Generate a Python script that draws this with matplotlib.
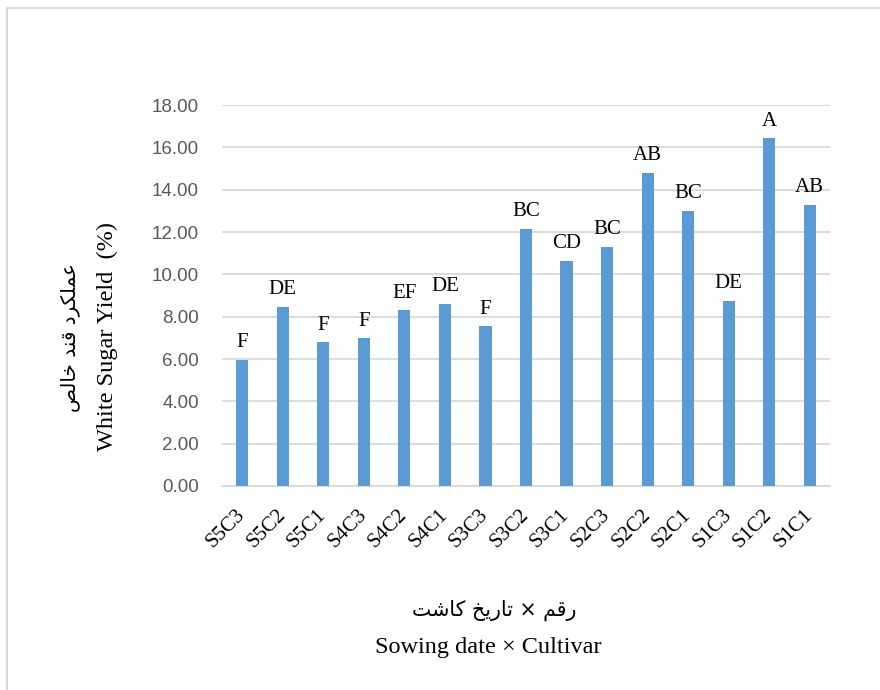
import matplotlib
matplotlib.use("Agg")
import matplotlib.pyplot as plt
from matplotlib.patches import Rectangle
from matplotlib.transforms import ScaledTranslation

treatments = ["S5C3", "S5C2", "S5C1", "S4C3", "S4C2", "S4C1", "S3C3", "S3C2",
              "S3C1", "S2C3", "S2C2", "S2C1", "S1C3", "S1C2", "S1C1"]
sugar_yield = [5.95, 8.48, 6.78, 6.97, 8.30, 8.60, 7.55, 12.14,
               10.63, 11.30, 14.81, 13.00, 8.75, 16.43, 13.29]
groups = ["F", "DE", "F", "F", "EF", "DE", "F", "BC",
          "CD", "BC", "AB", "BC", "DE", "A", "AB"]
y_ticks = [0, 2, 4, 6, 8, 10, 12, 14, 16, 18]

ylabel_fa = "عملکرد قند خالص"
ylabel_en = "White Sugar Yield  (%)"
xlabel_fa = "رقم × تاریخ کاشت"
xlabel_en = "Sowing date × Cultivar"

# matplotlib has no arabic shaping, so pick presentation forms by hand
# (isolated, final, initial, medial)
FORMS = {
    "ع": ("\uFEC9", "\uFECA", "\uFECB", "\uFECC"),
    "م": ("\uFEE1", "\uFEE2", "\uFEE3", "\uFEE4"),
    "ل": ("\uFEDD", "\uFEDE", "\uFEDF", "\uFEE0"),
    "ک": ("\uFB8E", "\uFB8F", "\uFB90", "\uFB91"),
    "ر": ("\uFEAD", "\uFEAE", "\uFEAD", "\uFEAE"),
    "د": ("\uFEA9", "\uFEAA", "\uFEA9", "\uFEAA"),
    "ق": ("\uFED5", "\uFED6", "\uFED7", "\uFED8"),
    "ن": ("\uFEE5", "\uFEE6", "\uFEE7", "\uFEE8"),
    "خ": ("\uFEA5", "\uFEA6", "\uFEA7", "\uFEA8"),
    "ا": ("\uFE8D", "\uFE8E", "\uFE8D", "\uFE8E"),
    "ص": ("\uFEB9", "\uFEBA", "\uFEBB", "\uFEBC"),
    "ت": ("\uFE95", "\uFE96", "\uFE97", "\uFE98"),
    "ی": ("\uFBFC", "\uFBFD", "\uFBFE", "\uFBFF"),
    "ش": ("\uFEB5", "\uFEB6", "\uFEB7", "\uFEB8"),
}
RIGHT_ONLY = set("اردذزژو")


def shape_fa(text):
    out = []
    for i, ch in enumerate(text):
        if ch not in FORMS:
            out.append(ch)
            continue
        prev = text[i - 1] if i > 0 else None
        nxt = text[i + 1] if i + 1 < len(text) else None
        join_prev = prev in FORMS and prev not in RIGHT_ONLY
        join_next = nxt in FORMS and ch not in RIGHT_ONLY
        iso, fin, ini, med = FORMS[ch]
        if join_prev and join_next:
            out.append(med)
        elif join_prev:
            out.append(fin)
        elif join_next:
            out.append(ini)
        else:
            out.append(iso)
    return "".join(reversed(out))


W, H = 880, 690
fig = plt.figure(figsize=(W / 100, H / 100), dpi=100)
fig.patches.append(Rectangle((7 / W, -0.1), 1.2, 1 - 8 / H + 0.1,
                             transform=fig.transFigure, fill=False,
                             edgecolor="#d9d9d9", linewidth=1.5))

ax = fig.add_axes([222 / W, 1 - 486 / H, (830 - 222) / W, (486 - 105) / H])
x = range(len(treatments))
ax.bar(x, sugar_yield, width=0.3, color="#5b9bd5", zorder=3)

for xi, val, g in zip(x, sugar_yield, groups):
    ax.annotate(g, (xi, val), xytext=(0, 5.5), textcoords="offset points",
                ha="center", va="bottom", fontsize=15,
                family="Liberation Serif", color="black")

ax.set_xlim(-0.5, len(treatments) - 0.5)
ax.set_ylim(0, 18)
ax.set_yticks(y_ticks)
ax.set_yticklabels([f"{t:.2f}" for t in y_ticks],
                   family="Liberation Sans", fontsize=13.5, color="#595959")
ax.set_xticks(list(x))
ax.set_xticklabels(treatments, rotation=45, ha="right", va="center",
                   rotation_mode="anchor", family="Liberation Serif",
                   fontsize=15, color="black")
shift = ScaledTranslation(-4 / 100, 0, fig.dpi_scale_trans)
for lbl in ax.get_xticklabels():
    lbl.set_transform(lbl.get_transform() + shift)
ax.tick_params(axis="y", length=0, pad=16.5)
ax.tick_params(axis="x", length=0, pad=19)
ax.grid(axis="y", color="#d9d9d9", linewidth=1.3, zorder=0)
for side in ["top", "right", "left"]:
    ax.spines[side].set_visible(False)
ax.spines["bottom"].set_color("#d9d9d9")
ax.spines["bottom"].set_linewidth(1.3)

fig.text(70 / W, 1 - 338 / H, shape_fa(ylabel_fa), rotation=90,
         ha="center", va="center", fontsize=14.3, family="DejaVu Sans")
fig.text(107 / W, 1 - 336 / H, ylabel_en, rotation=90,
         ha="center", va="center", fontsize=17.5, family="Liberation Serif")
fig.text(494 / W, 1 - 610 / H, shape_fa(xlabel_fa),
         ha="center", va="center", fontsize=14.8, family="DejaVu Sans")
fig.text(488 / W, 1 - 648 / H, xlabel_en,
         ha="center", va="center", fontsize=17.5, family="Liberation Serif")

fig.savefig("out.png", dpi=100)
